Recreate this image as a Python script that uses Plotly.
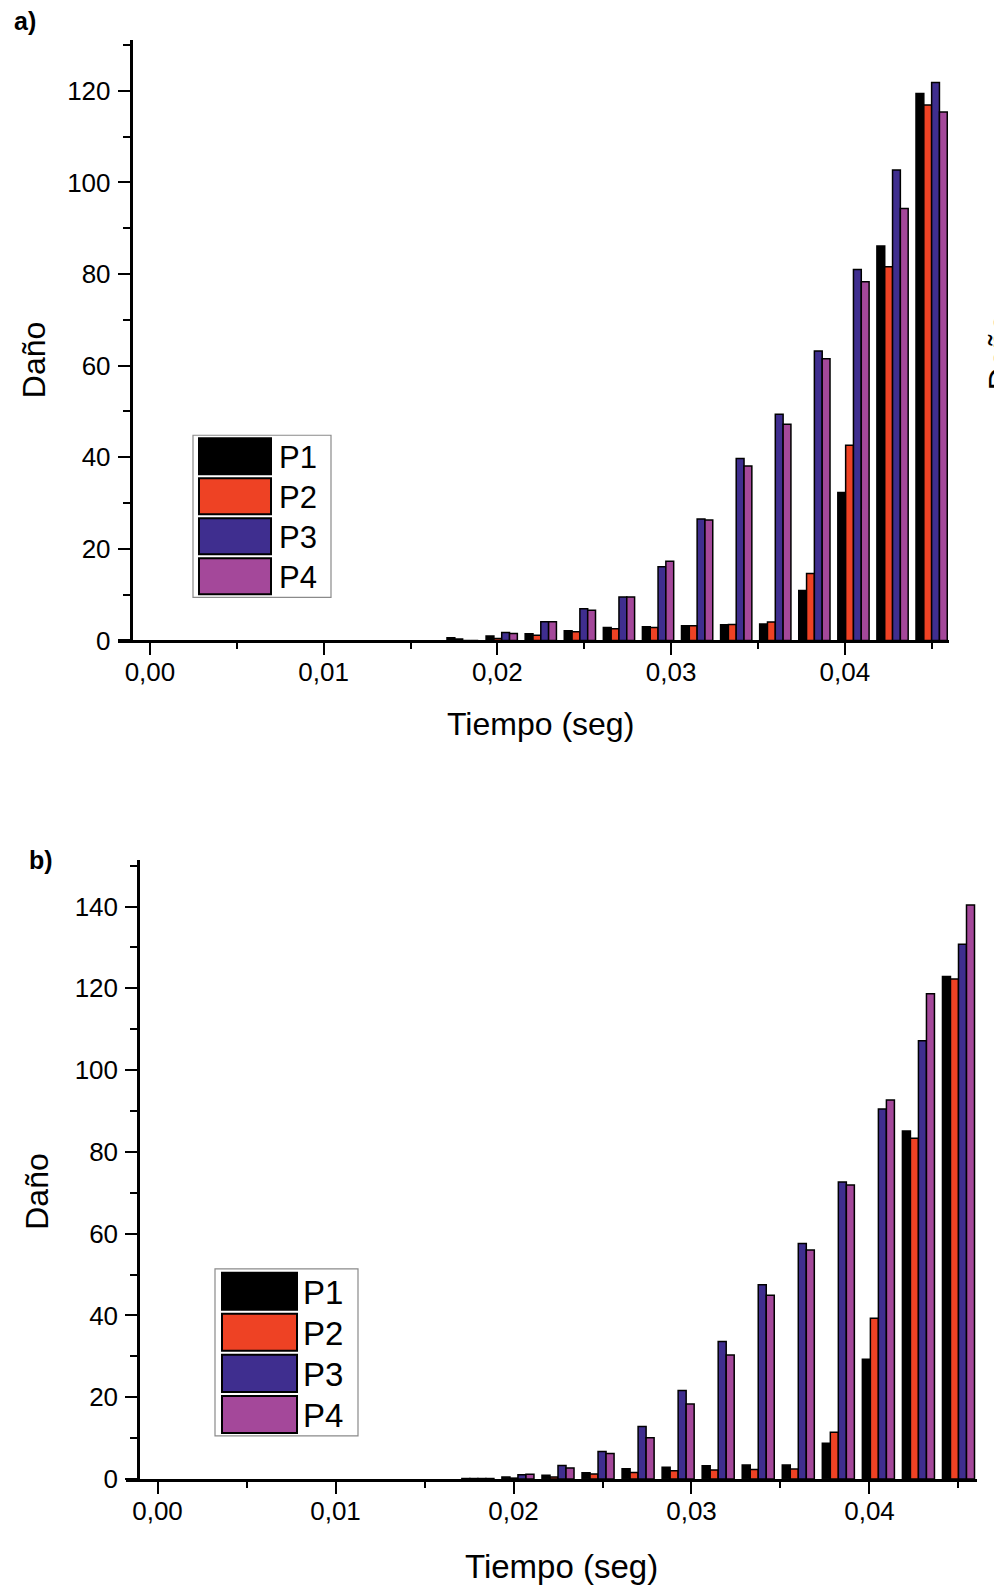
import plotly.graph_objects as go

W, H = 994, 1585          # target picture size (positions below are measured in it)
FIG_H = 1601              # rendered height (the capture is rescaled to 1585 tall)

# ---------------- data ----------------
tiempo = [0.018, 0.02025, 0.0225, 0.02475, 0.027, 0.02925, 0.0315,
          0.03375, 0.036, 0.03825, 0.0405, 0.04275, 0.045]
series = ["P1", "P2", "P3", "P4"]
colors = ["#000000", "#EE4224", "#3F2E8F", "#A4489A"]

# panel a)
p1_a = [0.6, 0.95, 1.45, 2.1, 2.8, 3.0, 3.2, 3.4, 3.6, 10.9, 32.3, 86.1, 119.4]
p2_a = [0.3, 0.4, 1.1, 1.9, 2.55, 2.8, 3.2, 3.5, 4.0, 14.6, 42.6, 81.6, 116.9]
p3_a = [0.0, 1.7, 4.1, 6.9, 9.5, 16.1, 26.5, 39.7, 49.4, 63.2, 81.0, 102.7, 121.8]
p4_a = [0.0, 1.5, 4.1, 6.6, 9.5, 17.3, 26.3, 38.1, 47.2, 61.5, 78.3, 94.3, 115.4]

# panel b)
p1_b = [0.1, 0.45, 0.9, 1.5, 2.5, 2.85, 3.25, 3.4, 3.4, 8.75, 29.3, 85.1, 122.9]
p2_b = [0.1, 0.2, 0.45, 1.2, 1.6, 2.0, 2.2, 2.3, 2.4, 11.4, 39.3, 83.3, 122.3]
p3_b = [0.1, 1.0, 3.3, 6.7, 12.8, 21.6, 33.6, 47.5, 57.6, 72.6, 90.5, 107.2, 130.8]
p4_b = [0.1, 1.15, 2.7, 6.2, 10.1, 18.3, 30.3, 44.9, 56.0, 71.9, 92.7, 118.7, 140.4]

x_ticks = [0.0, 0.01, 0.02, 0.03, 0.04]
y_title = "Daño"
x_title = "Tiempo (seg)"
panel_labels = ["a)", "b)"]

# ---------------- helpers ----------------
def px(x):
    return x / W

def py(y):
    return 1 - y / H

FONT = "Liberation Sans, Arial, sans-serif"

fig = go.Figure()

data_a = [p1_a, p2_a, p3_a, p4_a]
data_b = [p1_b, p2_b, p3_b, p4_b]
for name, col, vals in zip(series, colors, data_a):
    fig.add_trace(go.Bar(x=tiempo, y=vals, name=name, marker=dict(color=col, line=dict(color="black", width=1.5)),
                         xaxis="x", yaxis="y", showlegend=False, offsetgroup=name))
for name, col, vals in zip(series, colors, data_b):
    fig.add_trace(go.Bar(x=tiempo, y=vals, name=name, marker=dict(color=col, line=dict(color="black", width=1.5)),
                         xaxis="x2", yaxis="y2", showlegend=False, offsetgroup=name))

def xaxis_cfg(domain, rng, anchor):
    return dict(domain=domain, range=rng, anchor=anchor, showline=True, linecolor="black", linewidth=2.5,
                ticks="outside", ticklen=12, tickwidth=2, tickcolor="black",
                tickvals=x_ticks, tickformat=".2f", showgrid=False, zeroline=False,
                tickfont=dict(family=FONT, size=26, color="black"), ticklabelstandoff=-5,
                minor=dict(dtick=0.005, tick0=0, ticks="outside", ticklen=6, tickwidth=2, tickcolor="black"))

def yaxis_cfg(domain, rng, pos, dtick):
    return dict(domain=domain, range=rng, anchor="free", position=pos, showline=True, linecolor="black",
                linewidth=2.5, ticks="outside", ticklen=12, tickwidth=2, tickcolor="black", dtick=dtick,
                tick0=0, showgrid=False, zeroline=False,
                tickfont=dict(family=FONT, size=26, color="black"), ticklabelstandoff=2,
                minor=dict(dtick=dtick / 2, tick0=0, ticks="outside", ticklen=7, tickwidth=2, tickcolor="black"))

fig.update_layout(
    width=W, height=FIG_H, margin=dict(l=0, r=0, t=0, b=0),
    paper_bgcolor="white", plot_bgcolor="white",
    separators=",.", barmode="group", bargap=0.2, bargroupgap=0.0,
    xaxis=xaxis_cfg([px(118), px(949)], [-0.00184, 0.0460], "y"),
    yaxis=yaxis_cfg([py(640), py(40)], [0, 131.1], px(130.5), 20),
    xaxis2=xaxis_cfg([px(126), px(977)], [-0.00177, 0.04604], "y2"),
    yaxis2=yaxis_cfg([py(1478), py(859)], [0, 151.5], px(138), 20),
)

shapes = []
annotations = []

# legends drawn as boxes
def legend(box, sw_x, rows, text_x, fsize):
    shapes.append(dict(type="rect", xref="paper", yref="paper", x0=px(box[0]), x1=px(box[2]),
                       y0=py(box[1]), y1=py(box[3]), line=dict(color="#8a8a8a", width=1.2),
                       fillcolor="white", layer="above"))
    for (y0, y1), col, name in zip(rows, colors, series):
        shapes.append(dict(type="rect", xref="paper", yref="paper", x0=px(sw_x[0]), x1=px(sw_x[1]),
                           y0=py(y0), y1=py(y1), line=dict(color="black", width=2),
                           fillcolor=col, layer="above"))
        annotations.append(dict(xref="paper", yref="paper", x=px(text_x), y=py((y0 + y1) / 2 + 1),
                                xanchor="left", yanchor="middle", text=name, showarrow=False,
                                font=dict(family=FONT, size=fsize, color="black")))

legend((193, 435, 331, 597), (199, 271), [(438, 474), (478, 514), (518, 554), (558, 594)], 277, 31)
legend((215, 1268, 358, 1435), (222, 297), [(1272, 1309), (1313, 1350), (1354, 1391), (1395, 1432)], 301, 33)

# axis titles
for cx, cy in [(34, 360), (37, 1191)]:
    annotations.append(dict(xref="paper", yref="paper", x=px(cx), y=py(cy), text=y_title, textangle=-90,
                            showarrow=False, xanchor="center", yanchor="middle",
                            font=dict(family=FONT, size=32, color="black")))
for cx, cy, fs in [(540, 724, 32), (561, 1566, 33)]:
    annotations.append(dict(xref="paper", yref="paper", x=px(cx), y=py(cy), text=x_title,
                            showarrow=False, xanchor="center", yanchor="middle",
                            font=dict(family=FONT, size=fs, color="black")))

# panel labels
for (cx, cy), lab in zip([(25, 21), (41, 859)], panel_labels):
    annotations.append(dict(xref="paper", yref="paper", x=px(cx), y=py(cy), text="<b>" + lab + "</b>",
                            showarrow=False, xanchor="center", yanchor="middle",
                            font=dict(family=FONT, size=25, color="black")))

# clipped fragment of a neighbouring axis title at the right edge (as in the source image)
annotations.append(dict(xref="paper", yref="paper", x=px(980), y=py(352), text=y_title, textangle=-90,
                        showarrow=False, xanchor="left", yanchor="middle",
                        font=dict(family=FONT, size=32, color="black")))

fig.update_layout(shapes=shapes, annotations=annotations)
post = ("document.documentElement.style.margin='0';document.documentElement.style.padding='0';"
        "document.documentElement.style.overflow='hidden';"
        "document.body.style.margin='0';document.body.style.padding='0';"
        "document.body.style.overflow='hidden';"
        "var g=document.querySelector('.plotly-graph-div');"
        "if(g){g.style.position='fixed';g.style.left='0px';g.style.top='0px';}")
fig.write_html("out.html", config={"displayModeBar": False}, post_script=post)
